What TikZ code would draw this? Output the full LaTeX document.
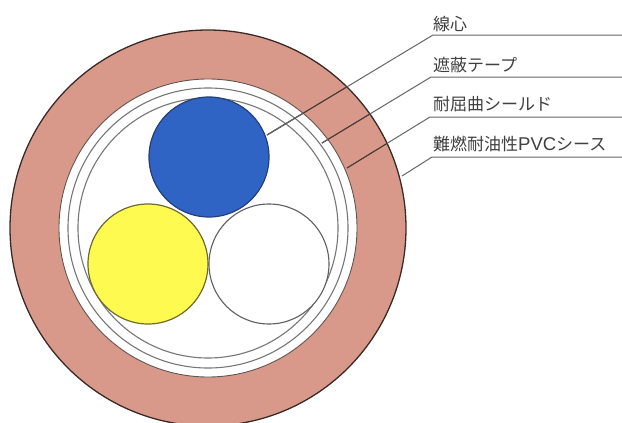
\documentclass[tikz,border=0pt]{standalone}
\usepackage{fontspec}
\newfontfamily\jpfont{Noto Sans CJK JP}
\newfontfamily\latinfont{Liberation Sans}
\definecolor{sheath}{HTML}{D9998A}
\definecolor{edgedark}{HTML}{3A2A26}
\definecolor{ringgray}{HTML}{77777A}
\definecolor{leader}{HTML}{666666}
\definecolor{labeltext}{HTML}{404040}
\definecolor{blueedge}{HTML}{23407A}
\definecolor{bluefill}{HTML}{2F63C4}
\definecolor{yellowfill}{HTML}{FFFA4F}
\definecolor{yellowedge}{HTML}{6E6A30}
\tikzset{
  disc/.style={circle,inner sep=0pt,outer sep=0pt,minimum size=#1*2pt},
  coreb/.style={disc=60,draw=blueedge,line width=1.2pt,fill=bluefill},
  corey/.style={disc=60,draw=yellowedge,line width=1.2pt,fill=yellowfill},
  corew/.style={disc=60,draw=ringgray!80!black,line width=1.1pt,fill=white},
  lbl/.style={anchor=south west,inner sep=0pt,text=labeltext,font=\jpfont\fontsize{17}{18}\selectfont},
  leadline/.style={draw=leader,line width=1pt},
  inleader/.style={draw=black!65!sheath,line width=1pt},
}
\begin{document}
\begin{tikzpicture}[x=1pt,y=-1pt]
\useasboundingbox (0,0) rectangle (622,423);
\clip (0,0) rectangle (622,423);
\fill[white] (0,0) rectangle (622,423);
\node[disc=198,draw=edgedark,line width=1.3pt,fill=sheath] (sheath) at (208,228) {};
\node[disc=149,draw=edgedark!80,line width=.9pt,fill=white] (inner) at (208,228) {};
\node[disc=140,draw=ringgray,line width=1.1pt] (braid) at (208,228) {};
\node[disc=130,draw=ringgray,line width=1.1pt] (tape) at (208,228) {};
\node[corew] (white) at (269,264) {};
\node[corey] (yellow) at (148,264) {};
\node[coreb] (blue) at (209,157) {};
\coordinate (a0) at (267,135); \coordinate (a1) at (433,35); \coordinate (a2) at (622,35);
\coordinate (b0) at (322,143); \coordinate (b1) at (431,77); \coordinate (b2) at (622,77);
\coordinate (c0) at (347,168); \coordinate (c1) at (430,117); \coordinate (c2) at (622,117);
\coordinate (d0) at (402,176); \coordinate (d1) at (432,157); \coordinate (d2) at (622,157);
\draw[leadline] (a0) -- (a1) -- (a2);
\draw[leadline] (b0) -- (b1) -- (b2);
\draw[leadline] (c0) -- (c1) -- (c2);
\draw[leadline] (d0) -- (d1) -- (d2);
\begin{scope}
\clip (208,228) circle (198pt);
\draw[inleader] (a0) -- (a1);
\draw[inleader] (b0) -- (b1);
\draw[inleader] (c0) -- (c1);
\end{scope}
\begin{scope}
\clip (208,228) circle (149pt);
\draw[leadline] (a0) -- (a1);
\draw[leadline] (b0) -- (b1);
\end{scope}
\node[lbl] (t1) at (433,32) {線心};
\node[lbl] (t2) at (433,73) {遮蔽テープ};
\node[lbl] (t3) at (433,112.5) {耐屈曲シールド};
\node[lbl] (t4) at (433,152.5) {難燃耐油性{\latinfont\fontsize{18.5}{18}\selectfont PVC}シース};
\end{tikzpicture}
\end{document}
